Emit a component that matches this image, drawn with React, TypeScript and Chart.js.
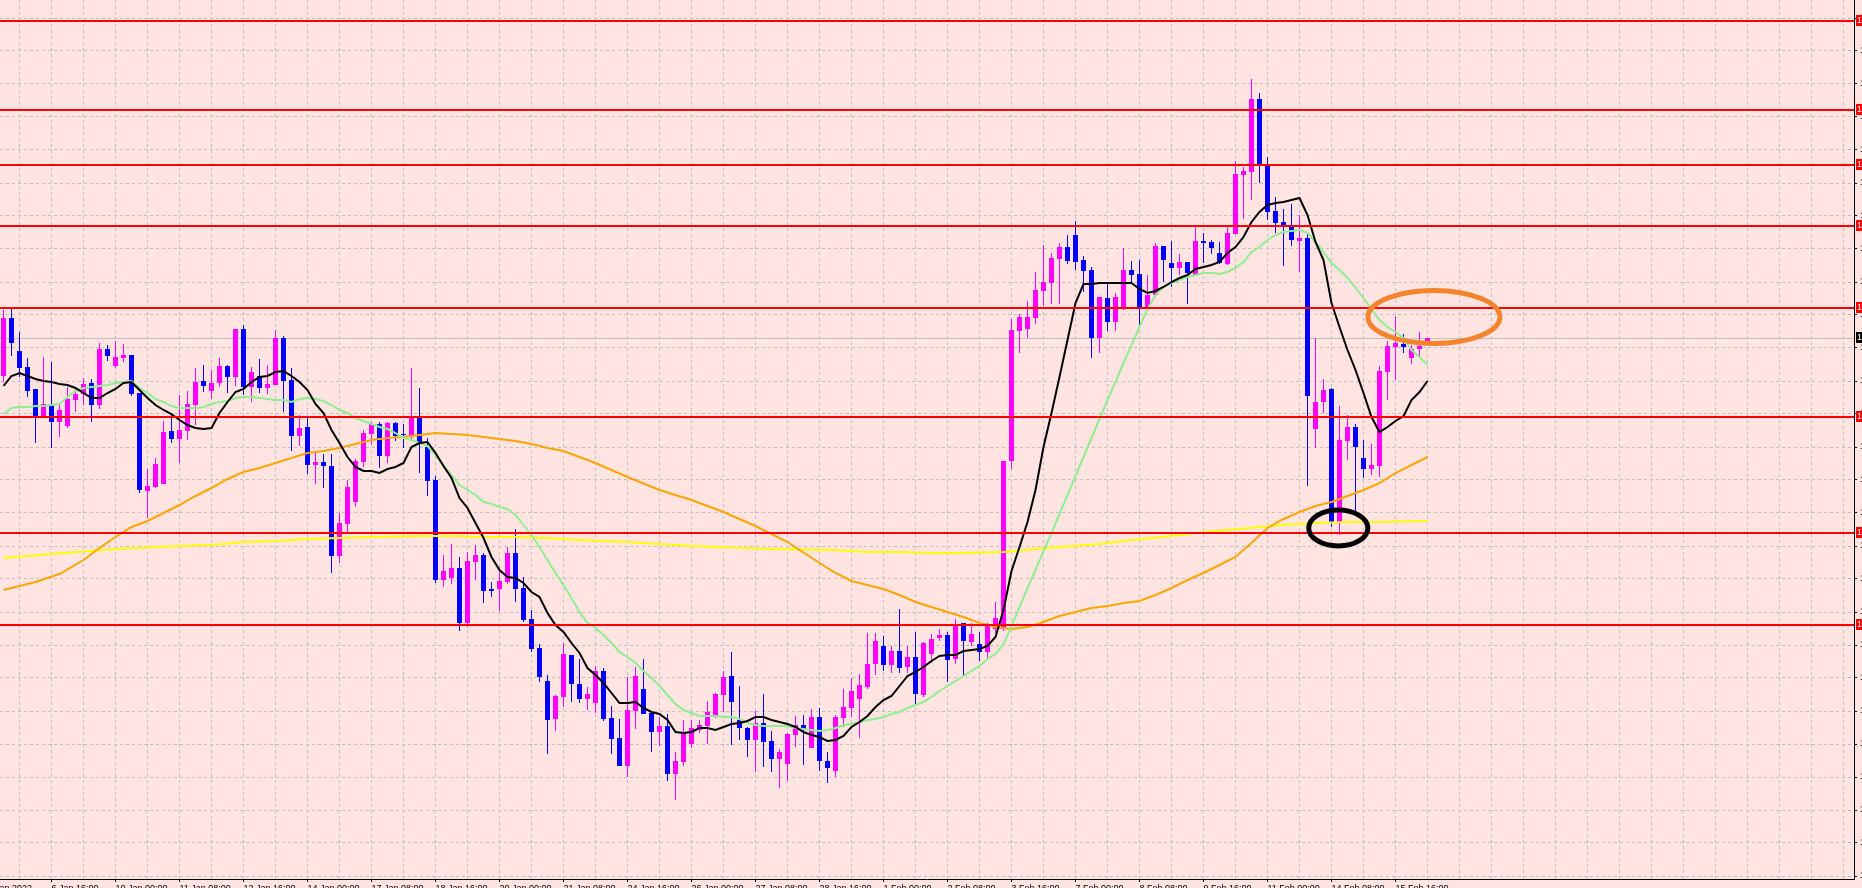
import React, { useEffect, useRef } from "react";
import { Chart, registerables } from "chart.js";

Chart.register(...registerables);

// ---------------- data (H4 candles, bar 0 = 6 Jan 16:00) ----------------
const FIRST_BAR = -6;

const opens = [
  1.1324, 1.1382, 1.1349, 1.1333, 1.1311, 1.1283, 1.1296, 1.1278, 1.1274, 1.1300,
  1.1306, 1.1317, 1.1295, 1.1351, 1.1334, 1.1342, 1.1345, 1.1307, 1.1209, 1.1213,
  1.1216, 1.1269, 1.1261, 1.1269, 1.1295, 1.1319, 1.1309, 1.1317, 1.1334, 1.1323,
  1.1371, 1.1313, 1.1324, 1.1312, 1.1315, 1.1362, 1.1320, 1.1264, 1.1273, 1.1235,
  1.1238, 1.1234, 1.1144, 1.1176, 1.1198, 1.1238, 1.1266, 1.1276, 1.1244, 1.1277,
  1.1266, 1.1264, 1.1283, 1.1253, 1.1220, 1.1120, 1.1122, 1.1132, 1.1077, 1.1138,
  1.1145, 1.1111, 1.1111, 1.1118, 1.1147, 1.1112, 1.1081, 1.1052, 1.1019, 1.0981,
  1.1003, 1.1045, 1.1016, 1.1001, 1.0997, 1.1029, 1.0982, 1.0962, 1.0934, 1.0989,
  1.1011, 1.0987, 1.0968, 1.0974, 1.0926, 1.0938, 1.0956, 1.0970, 1.0974, 1.0984,
  1.1005, 1.1024, 1.0980, 1.0972, 1.0960, 1.0977, 1.0959, 1.0941, 1.0936, 1.0965,
  1.0975, 1.0952, 1.0983, 1.0939, 1.0929, 1.0982, 1.0992, 1.1001, 1.1013, 1.1036,
  1.1054, 1.1035, 1.1049, 1.1033, 1.1043, 1.1005, 1.1046, 1.1062, 1.1065, 1.1041,
  1.1077, 1.1058, 1.1056, 1.1048, 1.1071, 1.1071, 1.1239, 1.1369, 1.1371, 1.1382,
  1.1409, 1.1417, 1.1441, 1.1453, 1.1465, 1.1440, 1.1430, 1.1362, 1.1402, 1.1378,
  1.1392, 1.1430, 1.1426, 1.1393, 1.1405, 1.1454, 1.1437, 1.1432, 1.1438, 1.1425,
  1.1459, 1.1458, 1.1447, 1.1436, 1.1466, 1.1525, 1.1528, 1.1601, 1.1534, 1.1489,
  1.1478, 1.1473, 1.1459, 1.1462, 1.1271, 1.1298, 1.1311, 1.1178, 1.1259, 1.1273,
  1.1242, 1.1231, 1.1234, 1.1328, 1.1353, 1.1356, 1.1342, 1.1351, 1.1357,
];

const highs = [
  1.1390, 1.1392, 1.1368, 1.1342, 1.1311, 1.1343, 1.1338, 1.1295, 1.1313, 1.1313,
  1.1322, 1.1321, 1.1357, 1.1355, 1.1359, 1.1356, 1.1345, 1.1307, 1.1231, 1.1242,
  1.1279, 1.1287, 1.1305, 1.1309, 1.1332, 1.1335, 1.1330, 1.1342, 1.1335, 1.1371,
  1.1375, 1.1333, 1.1341, 1.1335, 1.1370, 1.1364, 1.1332, 1.1285, 1.1282, 1.1247,
  1.1246, 1.1246, 1.1187, 1.1220, 1.1241, 1.1270, 1.1278, 1.1278, 1.1278, 1.1278,
  1.1276, 1.1332, 1.1312, 1.1262, 1.1224, 1.1145, 1.1156, 1.1143, 1.1148, 1.1155,
  1.1147, 1.1118, 1.1133, 1.1153, 1.1171, 1.1123, 1.1090, 1.1056, 1.1025, 1.1005,
  1.1057, 1.1045, 1.1041, 1.1013, 1.1034, 1.1032, 1.0994, 1.0981, 1.1023, 1.1033,
  1.1041, 1.0987, 1.0983, 1.0986, 1.0948, 1.0980, 1.0980, 1.0980, 1.0999, 1.1007,
  1.1029, 1.1048, 1.1014, 1.0973, 1.0989, 1.1006, 1.0969, 1.0951, 1.0967, 1.0984,
  1.0985, 1.0991, 1.0992, 1.0948, 1.0985, 1.1011, 1.1022, 1.1026, 1.1067, 1.1067,
  1.1064, 1.1054, 1.1091, 1.1054, 1.1068, 1.1058, 1.1066, 1.1071, 1.1068, 1.1081,
  1.1077, 1.1077, 1.1068, 1.1077, 1.1098, 1.1239, 1.1381, 1.1386, 1.1399, 1.1428,
  1.1455, 1.1447, 1.1457, 1.1465, 1.1479, 1.1444, 1.1433, 1.1403, 1.1418, 1.1407,
  1.1452, 1.1439, 1.1440, 1.1425, 1.1457, 1.1454, 1.1459, 1.1446, 1.1438, 1.1473,
  1.1467, 1.1460, 1.1458, 1.1473, 1.1539, 1.1533, 1.1621, 1.1607, 1.1543, 1.1503,
  1.1491, 1.1496, 1.1485, 1.1468, 1.1362, 1.1321, 1.1312, 1.1294, 1.1285, 1.1276,
  1.1260, 1.1256, 1.1334, 1.1359, 1.1384, 1.1366, 1.1355, 1.1368, 1.1362,
];

const lows = [
  1.1318, 1.1344, 1.1323, 1.1303, 1.1257, 1.1282, 1.1252, 1.1263, 1.1272, 1.1288,
  1.1295, 1.1278, 1.1291, 1.1339, 1.1332, 1.1338, 1.1304, 1.1207, 1.1182, 1.1212,
  1.1216, 1.1257, 1.1237, 1.1260, 1.1275, 1.1308, 1.1301, 1.1313, 1.1307, 1.1314,
  1.1305, 1.1298, 1.1307, 1.1306, 1.1315, 1.1288, 1.1249, 1.1254, 1.1226, 1.1216,
  1.1212, 1.1127, 1.1137, 1.1167, 1.1193, 1.1233, 1.1256, 1.1232, 1.1237, 1.1259,
  1.1252, 1.1260, 1.1227, 1.1204, 1.1117, 1.1113, 1.1116, 1.1069, 1.1073, 1.1120,
  1.1097, 1.1103, 1.1089, 1.1116, 1.1098, 1.1078, 1.1048, 1.1018, 1.0946, 1.0969,
  1.0993, 1.0998, 1.0997, 1.0990, 1.0987, 1.0979, 1.0946, 1.0934, 1.0923, 1.0971,
  1.0986, 1.0948, 1.0954, 1.0919, 1.0900, 1.0934, 1.0952, 1.0967, 1.0956, 1.0982,
  1.0988, 1.0955, 1.0960, 1.0943, 1.0928, 1.0933, 1.0928, 1.0912, 1.0919, 1.0953,
  1.0935, 1.0952, 1.0929, 1.0917, 1.0923, 1.0973, 1.0983, 1.0962, 1.1011, 1.1025,
  1.1029, 1.1027, 1.1027, 1.1027, 1.0996, 1.1003, 1.1037, 1.1059, 1.1018, 1.1036,
  1.1025, 1.1054, 1.1039, 1.1042, 1.1067, 1.1069, 1.1231, 1.1347, 1.1362, 1.1376,
  1.1394, 1.1396, 1.1396, 1.1436, 1.1430, 1.1408, 1.1342, 1.1347, 1.1369, 1.1369,
  1.1390, 1.1418, 1.1373, 1.1392, 1.1403, 1.1418, 1.1413, 1.1425, 1.1396, 1.1425,
  1.1437, 1.1446, 1.1436, 1.1435, 1.1466, 1.1481, 1.1500, 1.1517, 1.1480, 1.1467,
  1.1434, 1.1454, 1.1428, 1.1214, 1.1252, 1.1287, 1.1173, 1.1165, 1.1240, 1.1187,
  1.1222, 1.1225, 1.1223, 1.1300, 1.1320, 1.1347, 1.1336, 1.1342, 1.1357,
];

const closes = [
  1.1382, 1.1357, 1.1332, 1.1309, 1.1283, 1.1296, 1.1278, 1.1290, 1.1301, 1.1306,
  1.1316, 1.1295, 1.1351, 1.1344, 1.1343, 1.1345, 1.1306, 1.1210, 1.1214, 1.1236,
  1.1268, 1.1261, 1.1270, 1.1296, 1.1318, 1.1314, 1.1317, 1.1334, 1.1323, 1.1371,
  1.1313, 1.1328, 1.1312, 1.1316, 1.1362, 1.1319, 1.1264, 1.1272, 1.1235, 1.1238,
  1.1234, 1.1144, 1.1177, 1.1213, 1.1239, 1.1267, 1.1276, 1.1244, 1.1277, 1.1264,
  1.1265, 1.1283, 1.1258, 1.1219, 1.1120, 1.1129, 1.1132, 1.1077, 1.1139, 1.1145,
  1.1109, 1.1109, 1.1119, 1.1147, 1.1111, 1.1080, 1.1051, 1.1023, 1.0980, 1.1004,
  1.1046, 1.1016, 1.1001, 1.1006, 1.1029, 1.0981, 1.0961, 1.0934, 1.0990, 1.1024,
  1.0986, 1.0968, 1.0974, 1.0926, 1.0939, 1.0967, 1.0972, 1.0975, 1.0988, 1.1006,
  1.1023, 1.0998, 1.0972, 1.0960, 1.0977, 1.0958, 1.0941, 1.0948, 1.0966, 1.0975,
  1.0971, 1.0983, 1.0939, 1.0932, 1.0983, 1.0993, 1.1009, 1.1015, 1.1036, 1.1059,
  1.1035, 1.1049, 1.1032, 1.1043, 1.1006, 1.1057, 1.1061, 1.1065, 1.1040, 1.1075,
  1.1059, 1.1066, 1.1048, 1.1075, 1.1082, 1.1239, 1.1370, 1.1383, 1.1383, 1.1410,
  1.1418, 1.1442, 1.1453, 1.1439, 1.1438, 1.1429, 1.1362, 1.1403, 1.1378, 1.1403,
  1.1430, 1.1425, 1.1393, 1.1405, 1.1454, 1.1440, 1.1432, 1.1438, 1.1427, 1.1459,
  1.1457, 1.1452, 1.1437, 1.1467, 1.1526, 1.1529, 1.1601, 1.1536, 1.1488, 1.1477,
  1.1473, 1.1460, 1.1462, 1.1304, 1.1298, 1.1310, 1.1178, 1.1260, 1.1273, 1.1253,
  1.1231, 1.1235, 1.1329, 1.1354, 1.1357, 1.1353, 1.1351, 1.1354, 1.1362,
];

// fast moving average (black), one value per bar
const fastMA = [
  1.1314, 1.1324, 1.1327, 1.1324, 1.1321, 1.1319, 1.1318, 1.1316, 1.1315, 1.1312,
  1.1307, 1.1302, 1.1302, 1.1307, 1.1311, 1.1317, 1.1318, 1.1310, 1.1302, 1.1295,
  1.1290, 1.1286, 1.1280, 1.1275, 1.1272, 1.1271, 1.1272, 1.1287, 1.1298, 1.1308,
  1.1311, 1.1318, 1.1323, 1.1324, 1.1328, 1.1329, 1.1324, 1.1318, 1.1310, 1.1296,
  1.1287, 1.1270, 1.1257, 1.1243, 1.1233, 1.1229, 1.1229, 1.1227, 1.1231, 1.1233,
  1.1237, 1.1253, 1.1257, 1.1258, 1.1247, 1.1234, 1.1222, 1.1202, 1.1192, 1.1177,
  1.1162, 1.1143, 1.1130, 1.1123, 1.1122, 1.1117, 1.1108, 1.1103, 1.1087, 1.1075,
  1.1068, 1.1057, 1.1047, 1.1032, 1.1025, 1.1017, 1.1007, 1.0997, 1.0997, 1.0998,
  1.0992, 1.0988, 1.0986, 1.0980, 1.0968, 1.0967, 1.0968, 1.0972, 1.0972, 1.0970,
  1.0973, 1.0976, 1.0977, 1.0979, 1.0983, 1.0983, 1.0980, 1.0978, 1.0976, 1.0973,
  1.0968, 1.0965, 1.0963, 1.0959, 1.0960, 1.0964, 1.0973, 1.0978, 1.0984, 1.0993,
  1.1000, 1.1004, 1.1014, 1.1024, 1.1028, 1.1033, 1.1039, 1.1044, 1.1045, 1.1045,
  1.1049, 1.1050, 1.1051, 1.1054, 1.1063, 1.1090, 1.1129, 1.1153, 1.1178, 1.1210,
  1.1253, 1.1287, 1.1323, 1.1360, 1.1397, 1.1416, 1.1416, 1.1417, 1.1417, 1.1417,
  1.1417, 1.1417, 1.1411, 1.1407, 1.1409, 1.1413, 1.1418, 1.1422, 1.1425, 1.1431,
  1.1433, 1.1435, 1.1438, 1.1447, 1.1453, 1.1463, 1.1478, 1.1488, 1.1495, 1.1497,
  1.1498, 1.1500, 1.1502, 1.1485, 1.1458, 1.1440, 1.1397, 1.1373, 1.1350, 1.1330,
  1.1307, 1.1283, 1.1268, 1.1273, 1.1279, 1.1284, 1.1300, 1.1308, 1.1319,
];

// medium moving average (light green), one value per bar
const mediumMA = [
  1.1286, 1.1292, 1.1293, 1.1293, 1.1294, 1.1294, 1.1295, 1.1296, 1.1303, 1.1309,
  1.1312, 1.1313, 1.1314, 1.1315, 1.1317, 1.1318, 1.1319, 1.1312, 1.1307, 1.1301,
  1.1298, 1.1294, 1.1292, 1.1292, 1.1292, 1.1293, 1.1296, 1.1298, 1.1299, 1.1302,
  1.1303, 1.1303, 1.1302, 1.1301, 1.1300, 1.1300, 1.1298, 1.1301, 1.1302, 1.1301,
  1.1299, 1.1295, 1.1290, 1.1287, 1.1282, 1.1279, 1.1276, 1.1273, 1.1271, 1.1267,
  1.1262, 1.1260, 1.1257, 1.1254, 1.1245, 1.1234, 1.1225, 1.1215, 1.1210, 1.1205,
  1.1198, 1.1196, 1.1193, 1.1191, 1.1185, 1.1175, 1.1165, 1.1153, 1.1140, 1.1127,
  1.1115, 1.1102, 1.1088, 1.1077, 1.1072, 1.1065, 1.1057, 1.1048, 1.1043, 1.1037,
  1.1029, 1.1022, 1.1014, 1.1005, 1.0996, 1.0990, 1.0987, 1.0984, 1.0984, 1.0984,
  1.0983, 1.0983, 1.0981, 1.0977, 1.0975, 1.0974, 1.0974, 1.0974, 1.0974, 1.0972,
  1.0971, 1.0970, 1.0969, 1.0970, 1.0972, 1.0975, 1.0976, 1.0978, 1.0980, 1.0981,
  1.0983, 1.0986, 1.0988, 1.0992, 1.0995, 1.0998, 1.1003, 1.1009, 1.1014, 1.1019,
  1.1024, 1.1029, 1.1034, 1.1041, 1.1046, 1.1056, 1.1074, 1.1093, 1.1112, 1.1130,
  1.1149, 1.1167, 1.1186, 1.1205, 1.1224, 1.1243, 1.1262, 1.1281, 1.1300, 1.1318,
  1.1337, 1.1355, 1.1373, 1.1391, 1.1405, 1.1413, 1.1417, 1.1420, 1.1423, 1.1425,
  1.1427, 1.1427, 1.1426, 1.1428, 1.1432, 1.1438, 1.1448, 1.1453, 1.1460, 1.1465,
  1.1468, 1.1469, 1.1470, 1.1467, 1.1458, 1.1448, 1.1437, 1.1430, 1.1422, 1.1412,
  1.1402, 1.1391, 1.1380, 1.1373, 1.1368, 1.1362, 1.1350, 1.1343, 1.1335,
];

// slow moving average (orange): [bar, price]
const slowMA = [
  [-6, 1.1110], [-2, 1.1118], [1, 1.1126], [4, 1.1140], [6, 1.1152], [8, 1.1163],
  [10, 1.1173], [12, 1.1179], [14, 1.1187], [16, 1.1195], [18, 1.1204], [20, 1.1212],
  [22, 1.1221], [24, 1.1228], [26, 1.1232], [28, 1.1237], [30, 1.1242], [32, 1.1247],
  [34, 1.1249], [36, 1.1252], [38, 1.1256], [40, 1.1260], [42, 1.1262], [44, 1.1263],
  [46, 1.1265], [48, 1.1267], [50, 1.1266], [52, 1.1265], [54, 1.1263], [56, 1.1261],
  [58, 1.1259], [60, 1.1256], [62, 1.1252], [64, 1.1249], [66, 1.1243], [68, 1.1237],
  [70, 1.1230], [72, 1.1223], [76, 1.1210], [80, 1.1200], [84, 1.1188], [88, 1.1174],
  [92, 1.1158], [96, 1.1137], [98, 1.1127], [100, 1.1119], [102, 1.1115], [104, 1.1111],
  [106, 1.1105], [108, 1.1098], [110, 1.1093], [112, 1.1088], [114, 1.1083], [116, 1.1077],
  [118, 1.1073], [120, 1.1071], [122, 1.1073], [124, 1.1078], [126, 1.1084], [128, 1.1088],
  [130, 1.1092], [132, 1.1094], [134, 1.1097], [136, 1.1099], [138, 1.1105], [140, 1.1112],
  [142, 1.1120], [144, 1.1127], [146, 1.1135], [148, 1.1143], [150, 1.1157], [152, 1.1172],
  [154, 1.1181], [156, 1.1188], [158, 1.1194], [160, 1.1198], [162, 1.1204], [164, 1.1210],
  [166, 1.1217], [168, 1.1227], [170, 1.1235], [172, 1.1243],
];

// very slow moving average (yellow): [bar, price]
const verySlowMA = [
  [-6, 1.1142], [0, 1.1146], [8, 1.1151], [16, 1.1154], [20, 1.1155], [24, 1.1158],
  [28, 1.1159], [32, 1.1161], [36, 1.1162], [40, 1.1163], [46, 1.1164], [50, 1.1164],
  [54, 1.1163], [58, 1.1163], [62, 1.1162], [66, 1.1160], [72, 1.1158], [80, 1.1154],
  [90, 1.1151], [98, 1.1150], [102, 1.1148], [106, 1.1148], [110, 1.1147], [114, 1.1147],
  [119, 1.1148], [123, 1.1151], [126, 1.1153], [131, 1.1156], [135, 1.1160], [139, 1.1163],
  [143, 1.1167], [147, 1.1170], [151, 1.1173], [154, 1.1175], [158, 1.1177], [162, 1.1178],
  [166, 1.1178], [172, 1.1179],
];

// time-axis labels: one every 8 bars, starting at bar -8
const FIRST_LABEL_BAR = -8;
const LABEL_EVERY = 8;
const timeLabels = [
  "5 Jan 2022", "6 Jan 16:00", "10 Jan 00:00", "11 Jan 08:00", "12 Jan 16:00",
  "14 Jan 00:00", "17 Jan 08:00", "18 Jan 16:00", "20 Jan 00:00", "21 Jan 08:00",
  "24 Jan 16:00", "26 Jan 00:00", "27 Jan 08:00", "28 Jan 16:00", "1 Feb 00:00",
  "2 Feb 08:00", "3 Feb 16:00", "7 Feb 00:00", "8 Feb 08:00", "9 Feb 16:00",
  "11 Feb 00:00", "14 Feb 08:00", "15 Feb 16:00",
];

// horizontal support / resistance levels
const levels = [1.1679, 1.1590, 1.1535, 1.1474, 1.1392, 1.1283, 1.1167, 1.1075];
const bidPrice = 1.1362;

// hand-drawn ellipses (data coordinates)
const ellipses = [
  { bar: 172.8, price: 1.1383, halfBars: 8.25, halfPrice: 0.00265, color: "#F5842C", width: 5 },
  { bar: 160.85, price: 1.1172, halfBars: 3.7, halfPrice: 0.0018, color: "#000000", width: 5 },
];

// price grid
const PRICE_GRID_TOP = 1.1682;
const PRICE_GRID_STEP = 0.0033;
const PRICE_GRID_COUNT = 27;

// ---------------- styling ----------------
const BG = "#FFE4E1";
const BULL = "#FF00FF";
const BEAR = "#0000FF";
const GRID = "#C0C0C0";
const FONT = { family: '"Liberation Sans", Arial, sans-serif', size: 9 };

const X_MIN = -6.4375;
const X_MAX = 225.3125;
const Y_MIN = 1.0821;
const Y_MAX = 1.17;

const labelForBar = (v: number) => {
  const k = (v - FIRST_LABEL_BAR) / LABEL_EVERY;
  if (Number.isInteger(k) && k >= 0 && k < timeLabels.length) return timeLabels[k];
  return "";
};

const overlayPlugin = {
  id: "mt4overlay",
  beforeDraw(chart: any) {
    const { ctx, width, height } = chart;
    ctx.save();
    ctx.fillStyle = BG;
    ctx.fillRect(0, 0, width, height);
    ctx.restore();
  },
  beforeDatasetsDraw(chart: any) {
    const { ctx, chartArea } = chart;
    const y = Math.round(chart.scales.y.getPixelForValue(bidPrice)) + 0.5;
    ctx.save();
    ctx.strokeStyle = GRID;
    ctx.lineWidth = 1;
    ctx.beginPath();
    ctx.moveTo(chartArea.left, y);
    ctx.lineTo(chartArea.right, y);
    ctx.stroke();
    ctx.restore();
  },
  afterDatasetsDraw(chart: any) {
    const { ctx, chartArea } = chart;
    const xs = chart.scales.x;
    const ys = chart.scales.y;
    ctx.save();
    ctx.fillStyle = "#FF0000";
    levels.forEach((lv) => {
      const y = Math.round(ys.getPixelForValue(lv));
      ctx.fillRect(chartArea.left, y - 1, chartArea.right - chartArea.left, 2);
    });
    ellipses.forEach((e) => {
      const cx = xs.getPixelForValue(e.bar);
      const cy = ys.getPixelForValue(e.price);
      const rx = Math.abs(xs.getPixelForValue(e.bar + e.halfBars) - cx);
      const ry = Math.abs(ys.getPixelForValue(e.price + e.halfPrice) - cy);
      ctx.strokeStyle = e.color;
      ctx.lineWidth = e.width;
      ctx.beginPath();
      ctx.ellipse(cx, cy, rx, ry, 0, 0, Math.PI * 2);
      ctx.stroke();
    });
    ctx.restore();
  },
  afterDraw(chart: any) {
    const { ctx, chartArea } = chart;
    const ys = chart.scales.y;
    const box = (price: number, bg: string) => {
      const y = Math.round(ys.getPixelForValue(price));
      const x = chartArea.right + 2;
      ctx.fillStyle = bg;
      ctx.fillRect(x, y - 6, 60, 11);
      ctx.fillStyle = "#FFFFFF";
      ctx.font = `${FONT.size}px ${FONT.family}`;
      ctx.textAlign = "left";
      ctx.textBaseline = "middle";
      ctx.fillText(price.toFixed(4), x + 1, y);
    };
    ctx.save();
    levels.forEach((lv) => box(lv, "#FF0000"));
    box(bidPrice, "#000000");
    ctx.restore();
  },
};

export default function App() {
  const ref = useRef<HTMLCanvasElement>(null);

  useEffect(() => {
    const canvas = ref.current;
    if (!canvas) return;

    const idx = opens.map((_, i) => i);
    const wickData = idx.map((i) => ({ x: FIRST_BAR + i, y: [lows[i], highs[i]] }));
    const bodyData = idx.map((i) => ({ x: FIRST_BAR + i, y: [opens[i], closes[i]] }));
    const colors = idx.map((i) => (closes[i] >= opens[i] ? BULL : BEAR));

    const xTicks: number[] = [];
    for (let v = FIRST_LABEL_BAR; v <= X_MAX; v += LABEL_EVERY / 2) xTicks.push(v);
    const yTicks: number[] = [];
    for (let k = 0; k < PRICE_GRID_COUNT; k++) yTicks.push(+(PRICE_GRID_TOP - k * PRICE_GRID_STEP).toFixed(4));

    const lineDs = (label: string, data: any[], color: string, order: number) => ({
      type: "line" as const,
      label,
      data,
      borderColor: color,
      backgroundColor: color,
      borderWidth: 2,
      pointRadius: 0,
      pointHoverRadius: 0,
      tension: 0,
      fill: false,
      order,
    });

    const chart = new Chart(canvas, {
      type: "bar",
      data: {
        datasets: [
          lineDs("MA fast", fastMA.map((v, i) => ({ x: FIRST_BAR + i, y: v })), "#000000", 0),
          lineDs("MA medium", mediumMA.map((v, i) => ({ x: FIRST_BAR + i, y: v })), "#90EE90", 1),
          lineDs("MA slow", slowMA.map(([b, v]) => ({ x: b, y: v })), "#FFA500", 2),
          lineDs("MA very slow", verySlowMA.map(([b, v]) => ({ x: b, y: v })), "#FFFF00", 3),
          {
            type: "bar" as const,
            label: "body",
            data: bodyData as any,
            backgroundColor: colors,
            borderWidth: 0,
            barThickness: 5,
            minBarLength: 1,
            grouped: false,
            inflateAmount: 0,
            order: 4,
          } as any,
          {
            type: "bar" as const,
            label: "wick",
            data: wickData as any,
            backgroundColor: colors,
            borderWidth: 0,
            barThickness: 1,
            grouped: false,
            inflateAmount: 0,
            order: 5,
          } as any,
        ],
      },
      options: {
        responsive: false,
        maintainAspectRatio: false,
        animation: false,
        devicePixelRatio: 1,
        events: [],
        layout: { padding: 0 },
        plugins: { legend: { display: false }, tooltip: { enabled: false } },
        scales: {
          x: {
            type: "linear",
            position: "bottom",
            min: X_MIN,
            max: X_MAX,
            offset: false,
            grid: {
              color: GRID,
              lineWidth: 1,
              offset: false,
              drawTicks: true,
              tickLength: 3,
              tickColor: (c: any) => (c.tick && labelForBar(c.tick.value) ? "#000000" : "rgba(0,0,0,0)"),
            },
            border: { display: true, color: "#000000", width: 1, dash: [3, 3] },
            ticks: {
              autoSkip: false,
              maxRotation: 0,
              minRotation: 0,
              align: "start",
              padding: 1,
              color: "#000000",
              font: FONT,
              callback: (v: any) => labelForBar(Number(v)),
            },
            afterBuildTicks: (s: any) => {
              s.ticks = xTicks.map((v) => ({ value: v }));
            },
            afterFit: (s: any) => {
              s.height = 31;
              s.paddingLeft = 0;
              s.paddingRight = 0;
            },
          } as any,
          y: {
            type: "linear",
            position: "right",
            min: Y_MIN,
            max: Y_MAX,
            beginAtZero: false,
            grid: { color: GRID, lineWidth: 1, drawTicks: true, tickLength: 3, tickColor: "#000000" },
            border: { display: true, color: "#000000", width: 1, dash: [3, 3] },
            ticks: {
              padding: 3,
              color: "#000000",
              font: FONT,
              callback: (v: any) => Number(v).toFixed(4),
            },
            afterBuildTicks: (s: any) => {
              s.ticks = yTicks.map((v) => ({ value: v }));
            },
            afterFit: (s: any) => {
              s.width = 56;
              s.paddingTop = 0;
              s.paddingBottom = 0;
            },
          } as any,
        },
      },
      plugins: [overlayPlugin],
    });

    return () => chart.destroy();
  }, []);

  return (
    <div
      style={{
        position: "fixed",
        left: 0,
        top: 0,
        width: 1862,
        height: 888,
        overflow: "hidden",
        background: BG,
      }}
    >
      <canvas ref={ref} width={1910} height={910} style={{ display: "block", width: 1910, height: 910 }} />
    </div>
  );
}
